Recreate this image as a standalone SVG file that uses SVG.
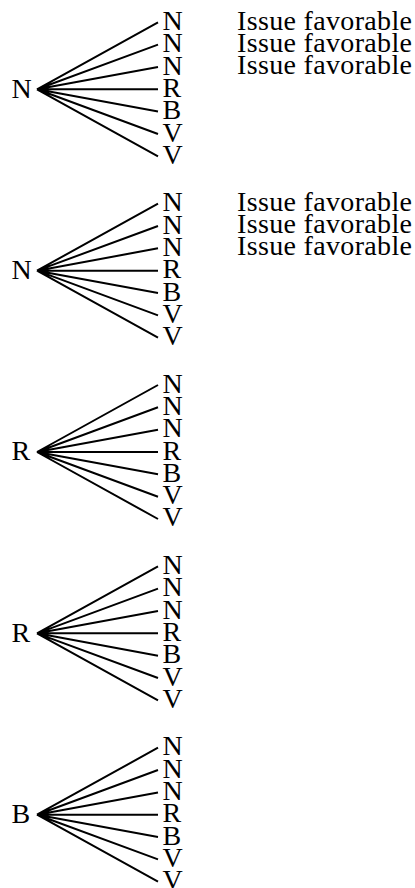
<svg xmlns="http://www.w3.org/2000/svg" width="415" height="888" viewBox="0 0 415 888">
  <style>
    text { font-family: "Liberation Serif", "Times New Roman", serif; font-size: 28px; fill: #000; }
    .edge { stroke: #000; stroke-width: 2; fill: none; }
  </style>
  <defs>
    <!-- one branching: seven edges from the root point to the leaves -->
    <g id="fan">
      <path class="edge" d="M37,89.3 L158,22.3 M37,89.3 L158,44.6 M37,89.3 L158,67 M37,89.3 L158,89.3 M37,89.3 L158,111.6 M37,89.3 L158,134 M37,89.3 L158,156.3"/>
    </g>
  </defs>
  <rect width="415" height="888" fill="#fff"/>

  <!-- connectors -->
  <g id="connectors">
    <use href="#fan" transform="translate(0,0)"/>
    <use href="#fan" transform="translate(0,181.35)"/>
    <use href="#fan" transform="translate(0,362.7)"/>
    <use href="#fan" transform="translate(0,544.05)"/>
    <use href="#fan" transform="translate(0,725.4)"/>
  </g>

  <!-- tree 1 -->
  <g id="tree1" transform="translate(0,0)">
    <text x="11.5" y="97.5">N</text>
    <g id="tree1-leaves">
      <text x="162.5" y="30">N</text>
      <text x="162.5" y="52.3">N</text>
      <text x="162.5" y="74.6">N</text>
      <text x="162.5" y="96.9">R</text>
      <text x="162.5" y="119.2">B</text>
      <text x="162.5" y="141.5">V</text>
      <text x="162.5" y="163.8">V</text>
    </g>
    <g id="tree1-notes">
      <text x="237" y="30" textLength="175">Issue favorable</text>
      <text x="237" y="52" textLength="175">Issue favorable</text>
      <text x="237" y="73.6" textLength="175">Issue favorable</text>
    </g>
  </g>

  <!-- tree 2 -->
  <g id="tree2" transform="translate(0,181.35)">
    <text x="11.5" y="97.5">N</text>
    <g id="tree2-leaves">
      <text x="162.5" y="30">N</text>
      <text x="162.5" y="52.3">N</text>
      <text x="162.5" y="74.6">N</text>
      <text x="162.5" y="96.9">R</text>
      <text x="162.5" y="119.2">B</text>
      <text x="162.5" y="141.5">V</text>
      <text x="162.5" y="163.8">V</text>
    </g>
    <g id="tree2-notes">
      <text x="237" y="30" textLength="175">Issue favorable</text>
      <text x="237" y="52" textLength="175">Issue favorable</text>
      <text x="237" y="73.6" textLength="175">Issue favorable</text>
    </g>
  </g>

  <!-- tree 3 -->
  <g id="tree3" transform="translate(0,362.7)">
    <text x="11.5" y="97.5">R</text>
    <g id="tree3-leaves">
      <text x="162.5" y="30">N</text>
      <text x="162.5" y="52.3">N</text>
      <text x="162.5" y="74.6">N</text>
      <text x="162.5" y="96.9">R</text>
      <text x="162.5" y="119.2">B</text>
      <text x="162.5" y="141.5">V</text>
      <text x="162.5" y="163.8">V</text>
    </g>
  </g>

  <!-- tree 4 -->
  <g id="tree4" transform="translate(0,544.05)">
    <text x="11.5" y="97.5">R</text>
    <g id="tree4-leaves">
      <text x="162.5" y="30">N</text>
      <text x="162.5" y="52.3">N</text>
      <text x="162.5" y="74.6">N</text>
      <text x="162.5" y="96.9">R</text>
      <text x="162.5" y="119.2">B</text>
      <text x="162.5" y="141.5">V</text>
      <text x="162.5" y="163.8">V</text>
    </g>
  </g>

  <!-- tree 5 -->
  <g id="tree5" transform="translate(0,725.4)">
    <text x="11.5" y="97.5">B</text>
    <g id="tree5-leaves">
      <text x="162.5" y="30">N</text>
      <text x="162.5" y="52.3">N</text>
      <text x="162.5" y="74.6">N</text>
      <text x="162.5" y="96.9">R</text>
      <text x="162.5" y="119.2">B</text>
      <text x="162.5" y="141.5">V</text>
      <text x="162.5" y="163.8">V</text>
    </g>
  </g>
</svg>
